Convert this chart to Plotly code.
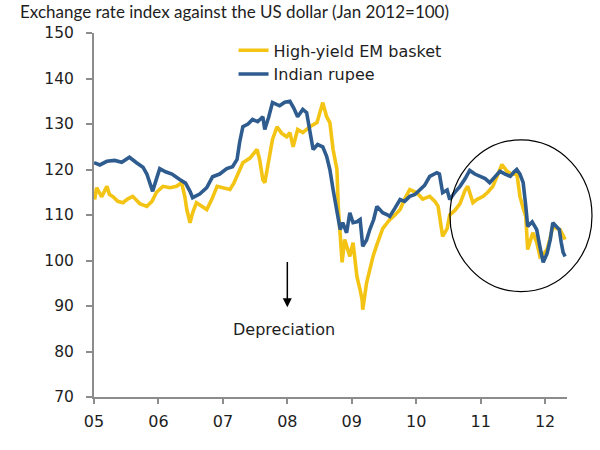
import plotly.graph_objects as go

# ---- data ----
em_t = [2005.01, 2005.04, 2005.12, 2005.20, 2005.24, 2005.29, 2005.37, 2005.45, 2005.52, 2005.60,
        2005.71, 2005.82, 2005.90, 2005.97, 2006.07, 2006.18, 2006.28, 2006.36, 2006.41, 2006.44,
        2006.49, 2006.53, 2006.59, 2006.67, 2006.75, 2006.83, 2006.91, 2007.00, 2007.11, 2007.17,
        2007.22, 2007.31, 2007.42, 2007.53, 2007.57, 2007.62, 2007.65, 2007.71, 2007.77, 2007.84,
        2007.91, 2007.99, 2008.04, 2008.09, 2008.16, 2008.24, 2008.35, 2008.46, 2008.50, 2008.55,
        2008.61, 2008.66, 2008.71, 2008.77, 2008.79, 2008.82, 2008.85, 2008.89, 2008.94, 2008.97,
        2009.02, 2009.08, 2009.13, 2009.16, 2009.17, 2009.23, 2009.28, 2009.33, 2009.39, 2009.44,
        2009.48, 2009.55, 2009.59, 2009.67, 2009.75, 2009.82, 2009.90, 2010.01, 2010.10, 2010.21,
        2010.29, 2010.34, 2010.38, 2010.41, 2010.48, 2010.52, 2010.60, 2010.68, 2010.76, 2010.80,
        2010.88, 2010.94, 2011.04, 2011.11, 2011.19, 2011.27, 2011.33, 2011.41, 2011.48, 2011.56,
        2011.61, 2011.66, 2011.70, 2011.73, 2011.78, 2011.81, 2011.87, 2011.92, 2011.98, 2012.03,
        2012.08, 2012.12, 2012.19, 2012.23, 2012.28, 2012.31]
em_v = [113.4, 116.0, 114.0, 116.3, 114.5, 114.1, 113.0, 112.7, 113.5, 114.1,
        112.5, 111.9, 113.0, 115.0, 116.3, 116.0, 116.3, 117.1, 114.0, 111.2,
        108.3, 110.5, 112.7, 112.0, 111.2, 113.5, 116.3, 116.0, 115.6, 117.0,
        118.5, 121.5, 122.5, 124.4, 122.2, 117.8, 117.1, 122.0, 126.6, 129.4,
        128.0, 127.2, 128.1, 125.0, 128.8, 128.1, 129.4, 130.3, 132.0, 134.7,
        131.6, 130.3, 124.4, 120.0, 111.9, 106.1, 99.6, 104.6, 102.0, 100.9,
        103.9, 96.5, 93.5, 91.4, 89.2, 95.1, 98.0, 100.9, 103.5, 105.3,
        107.0, 108.3, 109.0, 110.0, 111.2, 113.5, 115.6, 114.9, 113.5, 114.1,
        113.0, 111.9, 107.5, 105.3, 107.0, 110.0, 111.0, 112.5, 115.5, 116.3,
        112.7, 113.4, 114.1, 115.0, 116.3, 119.0, 121.1, 119.6, 119.0, 119.3,
        114.1, 111.5, 109.7, 102.4, 105.0, 106.1, 104.0, 100.9, 101.5, 102.4,
        105.0, 107.5, 107.0, 106.8, 105.5, 104.6]

inr_t = [2005.00, 2005.09, 2005.20, 2005.32, 2005.43, 2005.55, 2005.66, 2005.76, 2005.82, 2005.86,
         2005.91, 2005.96, 2006.02, 2006.11, 2006.21, 2006.33, 2006.42, 2006.49, 2006.53, 2006.64,
         2006.75, 2006.84, 2006.95, 2007.06, 2007.15, 2007.22, 2007.26, 2007.31, 2007.39, 2007.46,
         2007.54, 2007.62, 2007.65, 2007.71, 2007.77, 2007.88, 2007.96, 2008.04, 2008.10, 2008.16,
         2008.24, 2008.30, 2008.35, 2008.40, 2008.47, 2008.55, 2008.61, 2008.66, 2008.71, 2008.77,
         2008.82, 2008.86, 2008.92, 2008.97, 2009.02, 2009.08, 2009.13, 2009.17, 2009.23, 2009.28,
         2009.34, 2009.39, 2009.48, 2009.56, 2009.59, 2009.67, 2009.75, 2009.82, 2009.90, 2009.98,
         2010.06, 2010.13, 2010.21, 2010.32, 2010.36, 2010.41, 2010.48, 2010.52, 2010.60, 2010.68,
         2010.76, 2010.83, 2010.91, 2010.99, 2011.07, 2011.14, 2011.22, 2011.30, 2011.38, 2011.46,
         2011.52, 2011.56, 2011.61, 2011.66, 2011.70, 2011.73, 2011.80, 2011.87, 2011.92, 2011.97,
         2012.03, 2012.08, 2012.12, 2012.17, 2012.22, 2012.25, 2012.28, 2012.31]
inr_v = [121.5, 121.0, 121.8, 122.0, 121.6, 122.7, 121.5, 120.5, 119.0, 117.5,
         115.2, 117.5, 120.2, 119.5, 119.0, 117.8, 117.0, 115.2, 113.8, 114.6,
         116.0, 118.4, 119.0, 120.2, 120.6, 122.2, 126.0, 129.4, 130.0, 131.0,
         130.5, 131.6, 128.8, 131.5, 134.7, 134.0, 134.8, 135.0, 133.5, 131.6,
         133.2, 132.5, 128.1, 124.4, 125.5, 125.0, 122.9, 120.0, 115.6, 111.2,
         106.8, 108.3, 106.1, 110.5, 108.3, 108.5, 109.0, 103.1, 104.5, 106.8,
         109.0, 111.9, 110.5, 110.0, 109.7, 111.5, 113.4, 113.0, 114.1, 114.5,
         115.6, 116.5, 118.5, 119.3, 119.0, 114.9, 115.5, 113.4, 115.0, 116.3,
         118.0, 119.8, 119.0, 118.5, 118.0, 117.1, 118.5, 119.6, 119.0, 118.5,
         119.5, 120.0, 119.0, 117.1, 112.0, 107.5, 108.5, 106.8, 103.0, 99.6,
         101.5, 104.6, 108.3, 107.5, 106.8, 104.0, 101.8, 100.9]

series_names = ["High-yield EM basket", "Indian rupee"]
tick_years = [2005, 2006, 2007, 2008, 2009, 2010, 2011, 2012]
tick_labels = ["05", "06", "07", "08", "09", "10", "11", "12"]
title_text = "Exchange rate index against the US dollar (Jan 2012=100)"
note_text = "Depreciation"

YELLOW = "#F4C414"
BLUE = "#2F5C8F"
AXIS = "#8C8C8C"
TXT = "#1E1E1E"

fig = go.Figure()
fig.add_trace(go.Scatter(x=em_t, y=em_v, mode="lines", name=series_names[0],
                         line=dict(color=YELLOW, width=3.6)))
fig.add_trace(go.Scatter(x=inr_t, y=inr_v, mode="lines", name=series_names[1],
                         line=dict(color=BLUE, width=3.6)))

fig.update_layout(
    width=600, height=450,
    margin=dict(l=94, r=33, t=33, b=52.5, autoexpand=False),
    paper_bgcolor="white", plot_bgcolor="white",
    font=dict(family="DejaVu Sans", size=15, color=TXT),
    showlegend=True,
    legend=dict(x=0.295, y=0.999, xanchor="left", yanchor="top",
                bgcolor="rgba(0,0,0,0)", font=dict(size=16, color=TXT),
                tracegroupgap=0),
    title=dict(text=title_text, x=20 / 600, xanchor="left", xref="container",
               y=1 - 12 / 450, yanchor="middle", yref="container",
               font=dict(family="Lato", size=17, color=TXT)),
)
fig.update_xaxes(range=[2005, 2012.34], tickvals=tick_years, ticktext=tick_labels,
                 showgrid=False, zeroline=False, showline=True, linecolor=AXIS, linewidth=2,
                 ticks="outside", ticklen=5, tickcolor=AXIS, tickwidth=1.5, automargin=False,
                 ticklabelstandoff=4, tickfont=dict(size=16, color=TXT))
fig.update_yaxes(range=[70, 150], dtick=10, showgrid=False, zeroline=False,
                 showline=True, linecolor=AXIS, linewidth=2, automargin=False,
                 ticks="outside", ticklen=6, tickcolor=AXIS, tickwidth=1.5,
                 ticklabelstandoff=9, tickfont=dict(size=15.5, color=TXT))

# arrow + "Depreciation"
fig.add_annotation(x=2008.0, y=89.7, ax=2008.0, ay=100, xref="x", yref="y",
                   axref="x", ayref="y", text="", showarrow=True,
                   arrowhead=2, arrowsize=1.2, arrowwidth=1.5, arrowcolor="black")
fig.add_annotation(x=2007.95, y=84.9, xref="x", yref="y", text=note_text,
                   showarrow=False, font=dict(size=16, color=TXT))

# circle highlighting 2011-12
fig.add_shape(type="circle", xref="paper", yref="paper",
              x0=(450 - 94) / 473, x1=(592 - 94) / 473,
              y0=(397.5 - 292) / 364.5, y1=(397.5 - 140) / 364.5,
              line=dict(color="black", width=1.2), layer="above")

fig.write_html("out.html", config={"displayModeBar": False},
               post_script="document.body.style.margin='0';document.body.style.overflow='hidden';")
